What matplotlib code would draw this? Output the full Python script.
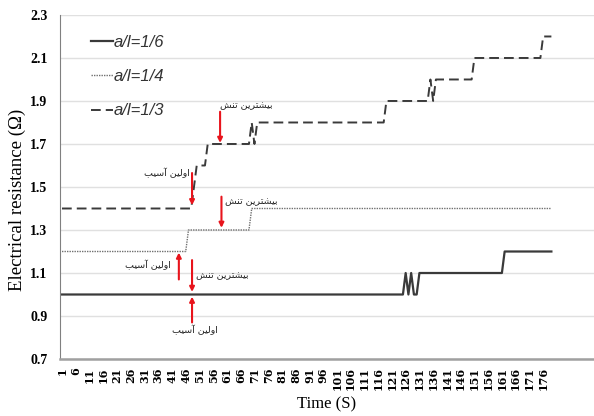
import numpy as np
import matplotlib
matplotlib.use("Agg")
import matplotlib.pyplot as plt

# step series, stored as (value, how many seconds)
time = np.arange(1, 180)

r16_vals = [1.0, 1.1, 1.0, 1.1, 1.0, 1.1, 1.2]
r16_runs = [125, 1, 1, 1, 2, 31, 18]

r14_vals = [1.2, 1.3, 1.4]
r14_runs = [46, 23, 110]

r13_vals = [1.4, 1.5, 1.6, 1.7, 1.8, 1.7, 1.8, 1.9, 2.0, 1.9, 2.0, 2.1, 2.2]
r13_runs = [48, 1, 4, 16, 1, 1, 47, 16, 1, 1, 14, 25, 4]

labels = ["a/l=1/6", "a/l=1/4", "a/l=1/3"]
tick_pos = np.arange(1, 180, 5)

# persian notes, shaped by hand (matplotlib has no arabic shaping)
max_stress = "\uFE91\uFEF4\uFEB8\uFE98\uFEAE\uFEF3\uFEE6 \uFE97\uFEE8\uFEB6"[::-1]
first_dmg = "\uFE8D\uFEED\uFEDF\uFEF4\uFEE6 \uFE81\uFEB3\uFEF4\uFE90"[::-1]

# (text, arrow x, arrow from y, arrow to y, text x, text y, align)
notes = [
    (max_stress, 58.5, 1.85, 1.705, 58.5, 1.88, "left"),
    (first_dmg, 48.3, 1.565, 1.415, 47.6, 1.565, "right"),
    (max_stress, 59.0, 1.455, 1.31, 60.3, 1.43, "left"),
    (first_dmg, 43.5, 1.07, 1.195, 40.5, 1.137, "right"),
    (max_stress, 48.3, 1.16, 1.012, 49.8, 1.09, "left"),
    (first_dmg, 48.3, 0.87, 0.99, 49.4, 0.835, "center"),
]

r16 = np.repeat(r16_vals, r16_runs)
r14 = np.repeat(r14_vals, r14_runs)
r13 = np.repeat(r13_vals, r13_runs)

fig = plt.figure(figsize=(5.94, 4.16), dpi=100)
ax = fig.add_axes([0.101, 0.137, 0.899, 0.827])

ax.plot(time, r16, color="#3a3a3a", lw=1.6, label=labels[0])
ax.plot(time, r14, color="#707070", lw=1.0, ls=(0, (1, 0.8)), label=labels[1])
ax.plot(time, r13, color="#3a3a3a", lw=1.4, ls=(0, (5, 2.6)), label=labels[2])

for txt, ax_x, y0, y1, tx, ty, ha in notes:
    ax.annotate("", xy=(ax_x, y1), xytext=(ax_x, y0),
                arrowprops=dict(arrowstyle="-|>", color="#e8141c", lw=1.5,
                                mutation_scale=7, shrinkA=0, shrinkB=0))
    ax.text(tx, ty, txt, fontsize=6.8, ha=ha, va="center", color="#222222",
            family=["DejaVu Sans"])

ax.set_xlim(0.27, 194.5)
ax.set_ylim(0.7, 2.3)
yt = np.arange(0.7, 2.31, 0.2)
ax.set_yticks(yt)
ax.set_yticklabels(["%.1f" % v for v in yt],
                   family="Liberation Serif", fontweight="bold", fontsize=10)
ax.set_xticks(tick_pos)
ax.set_xticklabels([str(t) for t in tick_pos], rotation=90,
                   family="DejaVu Serif", fontweight="bold", fontsize=8)
ax.tick_params(axis="y", length=0, pad=9)
ax.tick_params(axis="x", length=0, pad=6)
ax.grid(axis="y", color="#e0e0e0", lw=1)
ax.set_axisbelow(True)
for s in ["top", "right"]:
    ax.spines[s].set_visible(False)
ax.spines["left"].set_color("#808080")
ax.spines["bottom"].set_color("#a0a0a0")
ax.spines["bottom"].set_linewidth(1.8)

ax.set_ylabel("Electrical resistance (\u03a9)", family="Liberation Serif",
              fontsize=13.5)
ax.yaxis.set_label_coords(-0.064, 0.462)
ax.set_xlabel("Time (S)", family="Liberation Serif", fontsize=12)
ax.xaxis.set_label_coords(0.5, -0.11)

leg = ax.legend(loc="upper left", bbox_to_anchor=(0.03, 0.985), frameon=False,
                handlelength=1.3, labelspacing=1.15, handletextpad=0.05,
                prop=dict(family="Liberation Sans", style="italic", size=12))
for t in leg.get_texts():
    t.set_color("#333333")

fig.savefig("out.png", dpi=100)
